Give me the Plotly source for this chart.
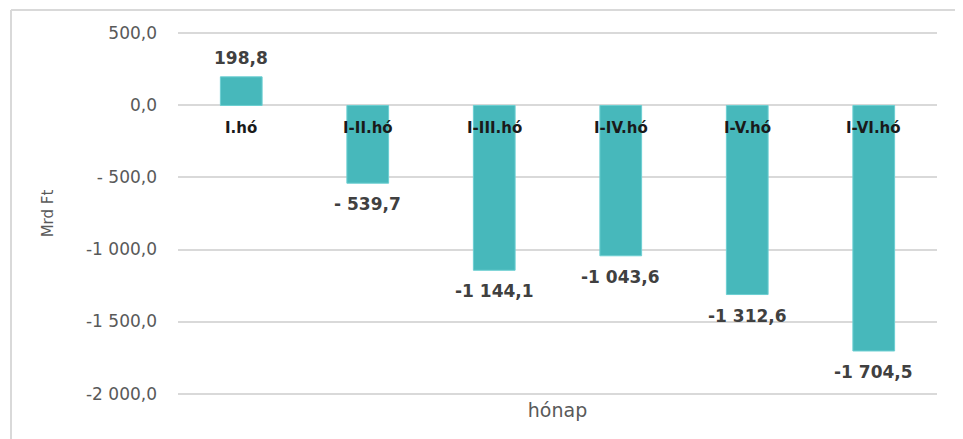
import plotly.graph_objects as go

categories = ["I.hó", "I-II.hó", "I-III.hó", "I-IV.hó", "I-V.hó", "I-VI.hó"]
values = [198.8, -539.7, -1144.1, -1043.6, -1312.6, -1704.5]
value_labels = ["198,8", "- 539,7", "-1 144,1", "-1 043,6", "-1 312,6", "-1 704,5"]
tick_values = [500, 0, -500, -1000, -1500, -2000]
tick_labels = ["500,0", "0,0", "- 500,0", "-1 000,0", "-1 500,0", "-2 000,0"]

# page body has an 8px offset, so figure coords = screen coords - 8
OFF = 8
W, H = 955, 431
ML, MR, MT, MB = 178 - OFF, 26, 24, 44
pw, ph = W - ML - MR, H - MT - MB

def px_to_paper_x(x):
    return (x - OFF - ML) / pw

def px_to_paper_y(y):
    return (H - MB - (y - OFF)) / ph

FONT = "DejaVu Sans"

fig = go.Figure()
fig.add_trace(go.Bar(
    x=categories, y=values,
    marker=dict(color="#47B8BB", line=dict(color="#6ccfd2", width=1)),
    width=0.33,
))

for c, v, t in zip(categories, values, value_labels):
    pos = v >= 0
    fig.add_annotation(x=c, y=v, yref="y", text="<b>" + t + "</b>", showarrow=False,
                       yanchor="bottom" if pos else "top", yshift=7 if pos else -9,
                       font=dict(family=FONT, size=17, color="#404040"))

for c in categories:
    fig.add_annotation(x=c, y=0, yref="y", text="<b>" + c + "</b>", showarrow=False,
                       yanchor="top", yshift=-12,
                       font=dict(family=FONT, size=15, color="#1a1a1a"))

line_col = "#d9d9d9"
fig.add_shape(type="line", xref="paper", yref="paper",
              x0=px_to_paper_x(11), x1=px_to_paper_x(963), y0=px_to_paper_y(10), y1=px_to_paper_y(10),
              line=dict(color=line_col, width=2))
fig.add_shape(type="line", xref="paper", yref="paper",
              x0=px_to_paper_x(11), x1=px_to_paper_x(11), y0=px_to_paper_y(10), y1=px_to_paper_y(450),
              line=dict(color=line_col, width=2))

fig.update_layout(
    width=W, height=H, margin=dict(l=ML, r=MR, t=MT, b=MB, autoexpand=False),
    paper_bgcolor="white", plot_bgcolor="white", showlegend=False,
    font=dict(family=FONT, color="#595959"),
    xaxis=dict(showticklabels=False, showgrid=False, zeroline=False, showline=False, automargin=False,
               title=dict(text="hónap", font=dict(size=19, color="#595959"), standoff=8)),
    yaxis=dict(range=[-2010, 510], tickvals=tick_values, ticktext=tick_labels, automargin=False,
               tickfont=dict(size=17, color="#595959"), gridcolor=line_col, gridwidth=1.5,
               zeroline=True, zerolinecolor=line_col, zerolinewidth=1.5, showline=False,
               ticklabelstandoff=20,
               title=dict(text="Mrd Ft", font=dict(size=15, color="#595959"), standoff=28)),
)

fig.write_html("out.html")
